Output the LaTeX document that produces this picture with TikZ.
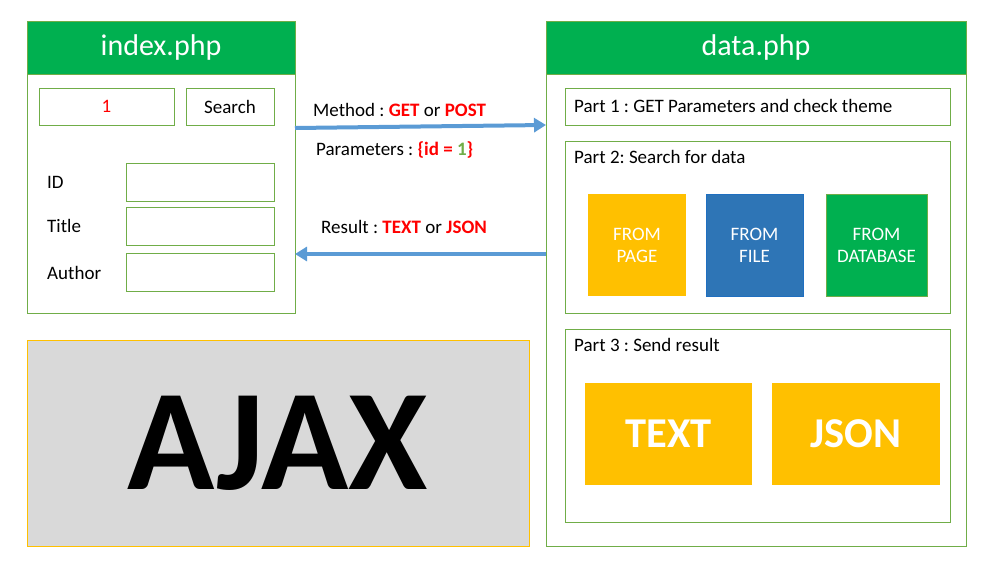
\documentclass[tikz,border=0pt]{standalone}
\usepackage{fontspec}
\setmainfont{Carlito}
\frenchspacing
\usetikzlibrary{arrows.meta}
\definecolor{hdrgreen}{HTML}{00B050}
\definecolor{bordgreen}{HTML}{70AD47}
\definecolor{arrblue}{HTML}{5B9BD5}
\definecolor{gold}{HTML}{FFC000}
\definecolor{fileblue}{HTML}{2E75B6}
\definecolor{fileedge}{HTML}{1F6FC0}
\definecolor{ajaxgray}{HTML}{D9D9D9}
\definecolor{txtred}{HTML}{FF0000}
\begin{document}
\begin{tikzpicture}[x=1pt,y=-1pt,
  box/.style={draw=bordgreen, line width=1pt, fill=white, inner sep=0pt, outer sep=0pt},
  hdr/.style={draw=bordgreen, line width=1pt, fill=hdrgreen, inner sep=0pt, outer sep=0pt, text=white, font=\fontsize{30}{33}\selectfont},
  norm/.style={font=\fontsize{19}{22}\selectfont\frenchspacing, inner sep=0pt},
  lbl/.style={norm, anchor=west},
  tile/.style={inner sep=0pt, outer sep=0pt, text=white, align=center, font=\fontsize{19}{22}\selectfont},
  big/.style={inner sep=0pt, outer sep=0pt, fill=gold, text=white, font=\fontsize{42.5}{44}\selectfont\bfseries},
  arr/.style={draw=arrblue, line width=4pt, -{Triangle[length=12pt,width=14pt]}},
]
\useasboundingbox (0,0) rectangle (994,570);
% index.php
\node[box, minimum width=268pt, minimum height=292pt] (idx) at (161,167) {};
\node[hdr, minimum width=268pt, minimum height=53pt] (idxh) at (161,47.5) {index.php};
\node[box, minimum width=135pt, minimum height=37pt, norm, text=txtred] (inp) at (106.5,106.5) {1};
\node[box, minimum width=88pt, minimum height=37pt, norm] (srch) at (230,106.5) {Search};
\node[box, minimum width=148pt, minimum height=38pt] (idf) at (200,182) {};
\node[box, minimum width=148pt, minimum height=38pt] (titf) at (200,226) {};
\node[box, minimum width=148pt, minimum height=38pt] (autf) at (200,272) {};
\node[lbl] (idl) at (47,182) {ID};
\node[lbl] (titl) at (47,226) {Title};
\node[lbl] (autl) at (47,273) {Author};
% AJAX
\node[draw=gold, line width=0.8pt, fill=ajaxgray, minimum width=502pt, minimum height=206pt, inner sep=0pt,
  font=\fontsize{144}{150}\selectfont\bfseries] (ajax) at (278,443) {AJAX};
% data.php
\node[box, minimum width=420pt, minimum height=525pt] (data) at (756,283.5) {};
\node[hdr, minimum width=420pt, minimum height=53pt] (datah) at (756,47.5) {data.php};
\node[box, minimum width=385pt, minimum height=37pt] (p1) at (757.5,106.5) {};
\node[lbl] (p1t) at (574,106) {Part 1 : GET Parameters and check theme};
\node[box, minimum width=385pt, minimum height=172pt] (p2) at (757.5,227) {};
\node[lbl] (p2t) at (574,157) {Part 2: Search for data};
\node[tile, fill=gold, minimum width=98pt, minimum height=102pt] (page) at (637,245) {FROM\\PAGE};
\node[tile, fill=fileblue, draw=fileedge, line width=0.8pt, minimum width=97pt, minimum height=102pt] (file) at (754.5,245) {FROM\\FILE};
\node[tile, fill=hdrgreen, draw=bordgreen, line width=0.8pt, minimum width=101pt, minimum height=102pt] (db) at (876.5,245) {FROM\\DATABASE};
\node[box, minimum width=385pt, minimum height=193pt] (p3) at (757.5,425.5) {};
\node[lbl] (p3t) at (574,345) {Part 3 : Send result};
\node[big, minimum width=167pt, minimum height=102pt] (txt) at (668.5,434) {TEXT};
\node[big, minimum width=168pt, minimum height=102pt] (json) at (856,434) {JSON};
% arrows
\draw[arr] ([yshift=-107pt]idx.north east) -- ([yshift=-104pt]data.north west);
\draw[arr] ([yshift=-233pt]data.north west) -- ([yshift=-233pt]idx.north east);
\node[lbl] (meth) at (313,110) {Method : {\color{txtred}\bfseries GET} or {\color{txtred}\bfseries POST}};
\node[lbl] (par) at (316,150) {Parameters : {\bfseries\color{txtred}\{id = {\color{bordgreen}1}\}}};
\node[lbl] (res) at (321,227) {Result : {\color{txtred}\bfseries TEXT} or {\color{txtred}\bfseries JSON}};
\end{tikzpicture}
\end{document}
